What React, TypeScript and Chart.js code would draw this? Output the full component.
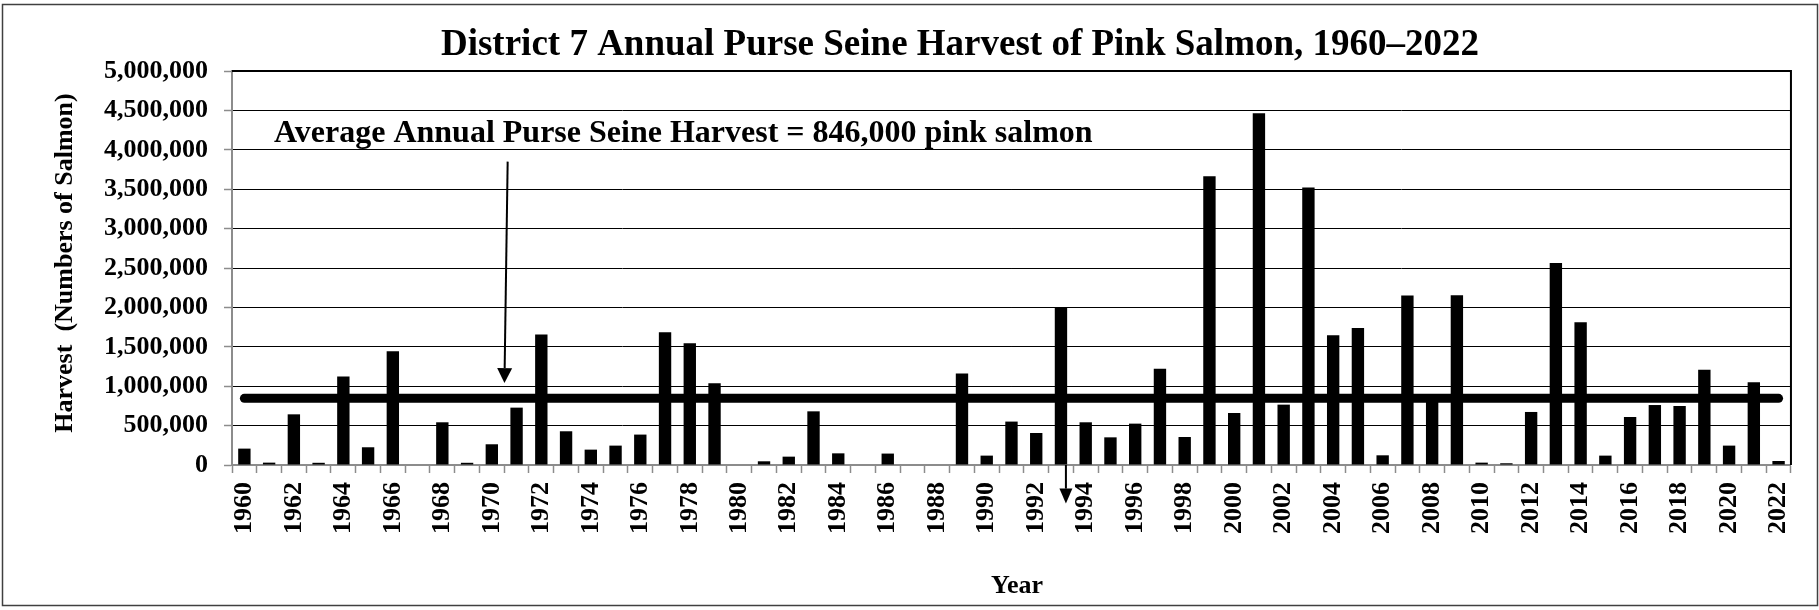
import React, { useEffect, useRef } from 'react';
import { Chart, registerables } from 'chart.js';

Chart.register(...registerables);

const YEARS = [
  '1960', '1961', '1962', '1963', '1964', '1965', '1966', '1967', '1968', '1969',
  '1970', '1971', '1972', '1973', '1974', '1975', '1976', '1977', '1978', '1979',
  '1980', '1981', '1982', '1983', '1984', '1985', '1986', '1987', '1988', '1989',
  '1990', '1991', '1992', '1993', '1994', '1995', '1996', '1997', '1998', '1999',
  '2000', '2001', '2002', '2003', '2004', '2005', '2006', '2007', '2008', '2009',
  '2010', '2011', '2012', '2013', '2014', '2015', '2016', '2017', '2018', '2019',
  '2020', '2021', '2022',
];

const HARVEST = [
  208000, 30000, 643000, 28000, 1122000, 225000, 1443000, 0, 542000, 28000,
  263000, 728000, 1655000, 428000, 195000, 246000, 386000, 1684000, 1544000, 1037000,
  0, 47000, 106000, 681000, 148000, 0, 145000, 0, 0, 1160000,
  119000, 551000, 406000, 2005000, 542000, 351000, 525000, 1223000, 355000, 3664000,
  660000, 4463000, 766000, 3520000, 1646000, 1739000, 123000, 2150000, 850000, 2154000,
  30000, 22000, 673000, 2563000, 1811000, 119000, 609000, 761000, 749000, 1210000,
  246000, 1049000, 51000,
];

const AVERAGE_HARVEST = 846000;
const Y_MIN = 0;
const Y_MAX = 5000000;
const Y_STEP = 500000;

const TITLE = 'District 7 Annual Purse Seine Harvest of Pink Salmon, 1960\u20132022';
const Y_TITLE = 'Harvest  (Numbers of Salmon)';
const X_TITLE = 'Year';
const AVG_LABEL = 'Average Annual Purse Seine Harvest = 846,000 pink salmon';

// annotation anchors in data units: [category index, value]
const AVG_LABEL_AT = [1.2, 4100000];
const ARROW_1 = { from: [10.64, 3850000], to: [10.51, 1040000] };
const ARROW_2 = { from: [33.2, 0], to: [33.2, -490000] };

const FONT = '"Liberation Serif", "Times New Roman", serif';

function drawArrow(ctx: CanvasRenderingContext2D, x1: number, y1: number, x2: number, y2: number, headW: number, headL: number) {
  const ang = Math.atan2(y2 - y1, x2 - x1);
  const bx = x2 - headL * Math.cos(ang);
  const by = y2 - headL * Math.sin(ang);
  ctx.beginPath();
  ctx.moveTo(x1, y1);
  ctx.lineTo(bx, by);
  ctx.stroke();
  const px = -Math.sin(ang) * headW / 2;
  const py = Math.cos(ang) * headW / 2;
  ctx.beginPath();
  ctx.moveTo(x2, y2);
  ctx.lineTo(bx + px, by + py);
  ctx.lineTo(bx - px, by - py);
  ctx.closePath();
  ctx.fill();
}

const decorations = {
  id: 'decorations',
  beforeDraw(chart: any) {
    const ctx = chart.ctx;
    ctx.save();
    ctx.fillStyle = '#fff';
    ctx.fillRect(0, 0, chart.width, chart.height);
    ctx.restore();
  },
  afterDraw(chart: any) {
    const ctx: CanvasRenderingContext2D = chart.ctx;
    const xs = chart.scales.x;
    const ys = chart.scales.y;
    const area = chart.chartArea;
    ctx.save();

    // plot frame top & right
    ctx.strokeStyle = '#000';
    ctx.lineWidth = 2;
    ctx.beginPath();
    ctx.moveTo(area.left, area.top);
    ctx.lineTo(area.right, area.top);
    ctx.lineTo(area.right, area.bottom);
    ctx.stroke();

    // outer border
    ctx.strokeStyle = '#404040';
    ctx.lineWidth = 1.5;
    ctx.strokeRect(2.5, 4.5, 1815, 601);

    ctx.fillStyle = '#000';
    // title
    ctx.font = `bold 37px ${FONT}`;
    ctx.textAlign = 'center';
    ctx.textBaseline = 'alphabetic';
    ctx.fillText(TITLE, 960, 55);

    // x title
    ctx.font = `bold 26px ${FONT}`;
    ctx.fillText(X_TITLE, 1017, 593);

    // y title
    ctx.save();
    ctx.translate(72, 263);
    ctx.rotate(-Math.PI / 2);
    ctx.textAlign = 'center';
    ctx.fillText(Y_TITLE, 0, 0);
    ctx.restore();

    // average label
    ctx.font = `bold 32px ${FONT}`;
    ctx.textAlign = 'left';
    ctx.fillText(AVG_LABEL, xs.getPixelForValue(AVG_LABEL_AT[0]), ys.getPixelForValue(AVG_LABEL_AT[1]));

    // arrows
    ctx.strokeStyle = '#000';
    ctx.lineWidth = 2;
    drawArrow(ctx,
      xs.getPixelForValue(ARROW_1.from[0]), ys.getPixelForValue(ARROW_1.from[1]),
      xs.getPixelForValue(ARROW_1.to[0]), ys.getPixelForValue(ARROW_1.to[1]), 15, 15);
    drawArrow(ctx,
      xs.getPixelForValue(ARROW_2.from[0]), ys.getPixelForValue(ARROW_2.from[1]),
      xs.getPixelForValue(ARROW_2.to[0]), ys.getPixelForValue(ARROW_2.to[1]), 13, 15);

    ctx.restore();
  },
};

export default function App() {
  const canvasRef = useRef<HTMLCanvasElement | null>(null);

  useEffect(() => {
    const canvas = canvasRef.current;
    if (!canvas) return;
    const chart = new Chart(canvas, {
      type: 'bar',
      data: {
        labels: YEARS,
        datasets: [
          {
            type: 'line',
            label: 'Average',
            data: YEARS.map(() => AVERAGE_HARVEST),
            borderColor: '#000',
            borderWidth: 9,
            borderCapStyle: 'round',
            pointRadius: 0,
            pointHoverRadius: 0,
            fill: false,
            order: 0,
          } as any,
          {
            type: 'bar',
            label: 'Harvest',
            data: HARVEST,
            backgroundColor: '#000',
            borderWidth: 0,
            barPercentage: 0.5,
            categoryPercentage: 1.0,
            order: 1,
          },
        ],
      },
      options: {
        responsive: false,
        animation: false,
        devicePixelRatio: 1,
        layout: { padding: { top: 71, right: 28, left: 0, bottom: 0 } },
        plugins: {
          legend: { display: false },
          title: { display: false },
          tooltip: { enabled: false },
        },
        scales: {
          x: {
            type: 'category',
            offset: true,
            grid: {
              display: true,
              offset: true,
              drawOnChartArea: false,
              drawTicks: true,
              tickLength: 8,
              tickColor: '#8c8c8c',
              tickWidth: 1.5,
            },
            border: { display: true, color: '#8c8c8c', width: 2 },
            ticks: {
              autoSkip: false,
              maxRotation: 90,
              minRotation: 90,
              padding: 9,
              color: '#000',
              font: { family: FONT, size: 26, weight: 'bold' },
              callback: (_v: any, i: number) => (i % 2 === 0 ? YEARS[i] : ''),
            },
            afterFit: (s: any) => { s.height = 145; },
          },
          y: {
            min: Y_MIN,
            max: Y_MAX,
            grid: {
              color: (c: any) => (c.tick && c.tick.value === 0 ? 'rgba(0,0,0,0)' : '#000'),
              lineWidth: 1,
              drawTicks: true,
              tickLength: 8,
              tickColor: '#8c8c8c',
              tickWidth: 1.5,
            },
            border: { display: true, color: '#8c8c8c', width: 2 },
            ticks: {
              stepSize: Y_STEP,
              padding: 16,
              color: '#000',
              font: { family: FONT, size: 26, weight: 'bold' },
              callback: (v: any) => Number(v).toLocaleString('en-US'),
            },
            afterFit: (s: any) => { s.width = 232; },
          },
        },
      },
      plugins: [decorations],
    });
    return () => chart.destroy();
  }, []);

  return (
    <div style={{ position: 'absolute', left: 0, top: 0, width: 1819, height: 610 }}>
      <canvas ref={canvasRef} width={1819} height={610} style={{ display: 'block', width: 1819, height: 610 }} />
    </div>
  );
}
